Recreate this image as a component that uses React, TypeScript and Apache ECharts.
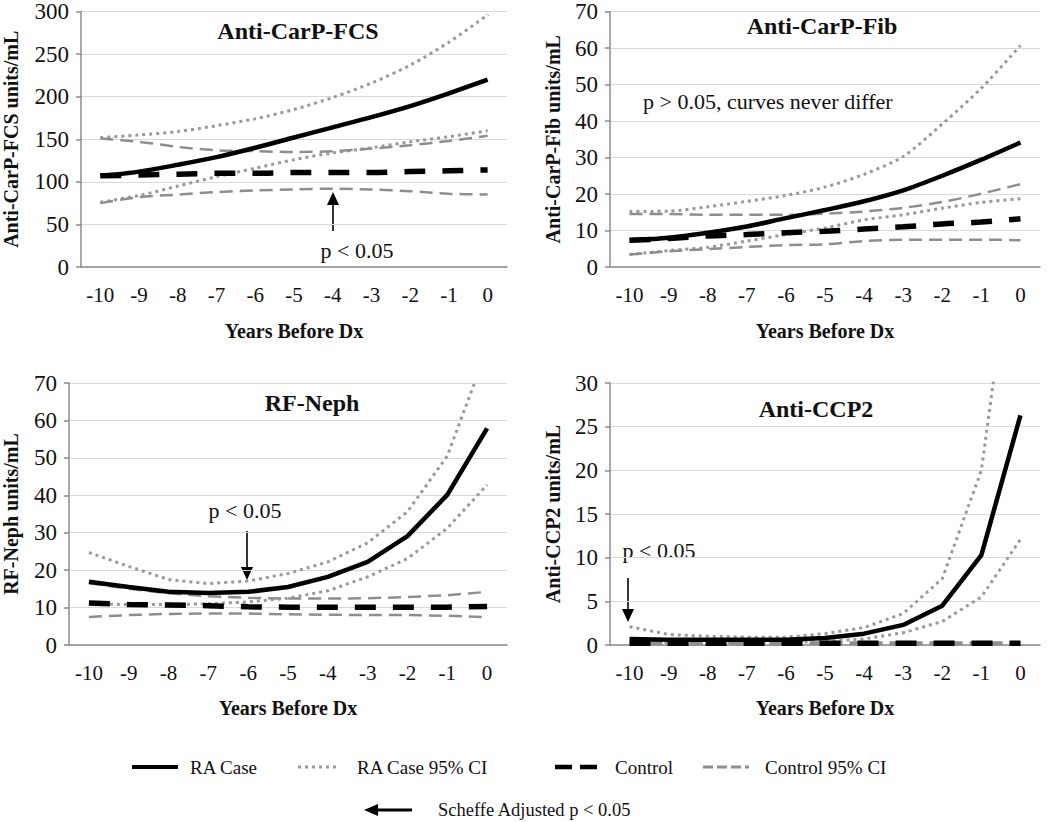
import React, { useEffect, useRef } from "react";
import * as echarts from "echarts";

const years = ["-10", "-9", "-8", "-7", "-6", "-5", "-4", "-3", "-2", "-1", "0"];

// Panel 1: Anti-CarP-FCS
const fcsRaCase = [107, 112, 120, 129, 140, 152, 164, 176, 189, 204, 220];
const fcsRaUpper = [152, 155, 159, 166, 174, 185, 199, 216, 237, 264, 296];
const fcsRaLower = [76, 84, 95, 106, 116, 126, 134, 140, 147, 153, 160];
const fcsCtrl = [107, 108, 109, 110, 110, 111, 111, 111, 112, 113, 114];
const fcsCtrlUpper = [151, 147, 141, 137, 136, 135, 136, 139, 143, 148, 154];
const fcsCtrlLower = [75, 82, 85, 88, 90, 91, 92, 91, 89, 86, 85];

// Panel 2: Anti-CarP-Fib
const fibRaCase = [7.3, 8.0, 9.4, 11.1, 13.4, 15.6, 18.0, 21.0, 25.0, 29.4, 34.1];
const fibRaUpper = [15.2, 15.3, 16.5, 18.0, 19.6, 21.9, 25.4, 30.3, 39.2, 49.0, 60.7];
const fibRaLower = [3.4, 4.5, 5.4, 7.1, 8.9, 10.7, 12.9, 14.3, 16.1, 17.7, 18.7];
const fibCtrl = [7.3, 7.8, 8.5, 8.9, 9.4, 9.8, 10.4, 11.0, 11.8, 12.3, 13.2];
const fibCtrlUpper = [14.5, 14.5, 14.3, 14.3, 14.3, 14.6, 15.2, 16.2, 17.8, 20.1, 22.7];
const fibCtrlLower = [3.4, 4.3, 4.9, 5.5, 6.0, 6.2, 7.1, 7.5, 7.5, 7.5, 7.3];

// Panel 3: RF-Neph
const nephRaCase = [16.9, 15.5, 14.2, 13.9, 14.2, 15.5, 18.2, 22.2, 29.1, 40.1, 57.9];
const nephRaUpper = [24.7, 21.0, 17.5, 16.4, 17.1, 19.1, 22.2, 27.3, 35.6, 50.5, 79];
const nephRaLower = [11.0, 10.8, 10.8, 11.0, 11.5, 12.5, 14.5, 18.2, 23.1, 31.2, 42.8];
const nephCtrl = [11.2, 10.8, 10.7, 10.5, 10.2, 10.1, 10.1, 10.1, 10.1, 10.1, 10.3];
const nephCtrlUpper = [16.5, 15.0, 13.8, 13.0, 12.6, 12.4, 12.4, 12.5, 12.8, 13.3, 14.2];
const nephCtrlLower = [7.5, 8.0, 8.3, 8.4, 8.4, 8.2, 8.1, 8.0, 8.0, 7.8, 7.4];

// Panel 4: Anti-CCP2
const ccpRaCase = [0.7, 0.6, 0.6, 0.6, 0.6, 0.8, 1.3, 2.3, 4.5, 10.3, 26.3];
const ccpRaUpper = [2.1, 1.2, 1.0, 0.9, 0.9, 1.3, 2.0, 3.6, 7.6, 20.0, 53];
const ccpRaLower = [0.2, 0.3, 0.3, 0.3, 0.3, 0.4, 0.7, 1.4, 2.7, 5.5, 12.1];
const ccpCtrl = [0.2, 0.2, 0.2, 0.2, 0.2, 0.2, 0.2, 0.2, 0.2, 0.2, 0.2];
const ccpCtrlUpper = [0.35, 0.3, 0.3, 0.3, 0.3, 0.3, 0.3, 0.3, 0.3, 0.3, 0.3];
const ccpCtrlLower = [0.1, 0.1, 0.1, 0.1, 0.1, 0.1, 0.1, 0.1, 0.1, 0.1, 0.1];

const panelTitles = ["Anti-CarP-FCS", "Anti-CarP-Fib", "RF-Neph", "Anti-CCP2"];
const yNames = ["Anti-CarP-FCS units/mL", "Anti-CarP-Fib units/mL", "RF-Neph units/mL", "Anti-CCP2 units/mL"];
const yMaxes = [300, 70, 70, 30];
const yIntervals = [50, 10, 10, 5];
const xName = "Years Before Dx";
const legendNames = ["RA Case", "RA Case 95% CI", "Control", "Control 95% CI"];

const FONT = "Liberation Serif";
const AXIS_GRAY = "#8c8c8c";
const CI_GRAY = "#999999";
const CTRL_GRAY = "#8e8e8e";

const grids = [
  { left: 81, top: 5, width: 426, height: 262 },
  { left: 610, top: 5, width: 430, height: 262 },
  { left: 68, top: 383, width: 439, height: 262 },
  { left: 610, top: 383, width: 430, height: 262 },
];
const yNameGaps = [60, 47, 48, 47];
const smoothVals = [0.3, 0.3, false, false];

const panelData = [
  [fcsRaUpper, fcsRaLower, fcsCtrlUpper, fcsCtrlLower, fcsCtrl, fcsRaCase],
  [fibRaUpper, fibRaLower, fibCtrlUpper, fibCtrlLower, fibCtrl, fibRaCase],
  [nephRaUpper, nephRaLower, nephCtrlUpper, nephCtrlLower, nephCtrl, nephRaCase],
  [ccpRaUpper, ccpRaLower, ccpCtrlUpper, ccpCtrlLower, ccpCtrl, ccpRaCase],
];

const styleRaCI = { color: CI_GRAY, width: 3, type: [3, 4] as any, cap: "butt" as const };
const styleCtrlCI = { color: CTRL_GRAY, width: 2.5, type: [13, 7] as any };
const styleCtrl = { color: "#000", width: 5.5, type: [21, 17] as any };
const styleRa = { color: "#000", width: 4.5 };

function buildOption() {
  const xAxis: any[] = [];
  const yAxis: any[] = [];
  const series: any[] = [];
  for (let i = 0; i < 4; i++) {
    xAxis.push({
      type: "category",
      gridIndex: i,
      data: years,
      boundaryGap: true,
      axisLine: { lineStyle: { color: AXIS_GRAY, width: 1.5 } },
      axisTick: { alignWithLabel: true, length: 5, lineStyle: { color: AXIS_GRAY, width: 1.5 } },
      axisLabel: { fontFamily: FONT, fontSize: 21, color: "#111", margin: 17 },
      name: xName,
      nameLocation: "middle",
      nameGap: i < 2 ? 54 : 53,
      nameTextStyle: { fontFamily: FONT, fontSize: 20, fontWeight: "bold", color: "#111" },
    });
    yAxis.push({
      type: "value",
      gridIndex: i,
      min: 0,
      max: yMaxes[i],
      interval: yIntervals[i],
      axisLine: { show: true, lineStyle: { color: AXIS_GRAY, width: 1.5 } },
      axisTick: { show: true, length: 5, lineStyle: { color: AXIS_GRAY, width: 1.5 } },
      splitLine: { lineStyle: { color: "#d9d9d9", width: 1 } },
      axisLabel: { fontFamily: FONT, fontSize: 23, color: "#111", margin: 12 },
      name: yNames[i],
      nameLocation: "middle",
      nameRotate: 90,
      nameGap: yNameGaps[i],
      nameTextStyle: { fontFamily: FONT, fontSize: 20, fontWeight: "bold", color: "#111" },
    });
    const d = panelData[i];
    const styles = [styleRaCI, styleRaCI, styleCtrlCI, styleCtrlCI, styleCtrl, styleRa];
    const names = [legendNames[1], legendNames[1], legendNames[3], legendNames[3], legendNames[2], legendNames[0]];
    for (let k = 0; k < 6; k++) {
      series.push({
        type: "line",
        name: names[k],
        xAxisIndex: i,
        yAxisIndex: i,
        data: d[k],
        symbol: "none",
        smooth: smoothVals[i],
        clip: true,
        lineStyle: styles[k],
        z: 2 + k,
      });
    }
  }

  const T = (text: string, x: number, y: number, size: number, bold = false, align = "center") => ({
    type: "text",
    x,
    y,
    style: {
      text,
      fontFamily: FONT,
      fontSize: size,
      fontWeight: bold ? "bold" : "normal",
      fill: "#111",
      textAlign: align,
      textVerticalAlign: "middle",
    },
  });
  const arrowDown = (x: number, y0: number, tip: number) => [
    { type: "line", shape: { x1: x, y1: y0, x2: x, y2: tip - 10 }, style: { stroke: "#000", lineWidth: 1.6 } },
    { type: "polygon", shape: { points: [[x - 6, tip - 13], [x + 6, tip - 13], [x, tip]] }, style: { fill: "#000" } },
  ];

  const graphic: any[] = [
    T(panelTitles[0], 298, 31, 24, true),
    T(panelTitles[1], 822, 26, 24, true),
    T(panelTitles[2], 312, 403, 24, true),
    T(panelTitles[3], 816, 409, 24, true),
    T("p < 0.05", 357, 250, 22),
    { type: "line", shape: { x1: 333, y1: 231, x2: 333, y2: 202 }, style: { stroke: "#000", lineWidth: 1.6 } },
    { type: "polygon", shape: { points: [[327, 205], [339, 205], [333, 192]] }, style: { fill: "#000" } },
    T("p > 0.05, curves never differ", 643, 101, 22, false, "left"),
    T("p < 0.05", 245, 510, 22),
    ...arrowDown(247, 531, 580),
    T("p < 0.05", 659, 550, 22),
    ...arrowDown(628, 578, 622),
    { type: "line", shape: { x1: 132, y1: 767, x2: 178, y2: 767 }, style: { stroke: "#000", lineWidth: 4 } },
    T(legendNames[0], 190, 767, 19, false, "left"),
    { type: "line", shape: { x1: 298, y1: 767, x2: 340, y2: 767 }, style: { stroke: CI_GRAY, lineWidth: 3, lineDash: [3, 4] } },
    T(legendNames[1], 357, 767, 19, false, "left"),
    { type: "line", shape: { x1: 555, y1: 767, x2: 597, y2: 767 }, style: { stroke: "#000", lineWidth: 4.5, lineDash: [17, 8] } },
    T(legendNames[2], 615, 767, 19, false, "left"),
    { type: "line", shape: { x1: 703, y1: 767, x2: 749, y2: 767 }, style: { stroke: CTRL_GRAY, lineWidth: 3, lineDash: [10, 4] } },
    T(legendNames[3], 765, 767, 19, false, "left"),
    { type: "line", shape: { x1: 374, y1: 810, x2: 412, y2: 810 }, style: { stroke: "#000", lineWidth: 3 } },
    { type: "polygon", shape: { points: [[364, 810], [378, 804], [378, 816]] }, style: { fill: "#000" } },
    T("Scheffe Adjusted p < 0.05", 438, 810, 18.5, false, "left"),
  ];

  return {
    animation: false,
    backgroundColor: "#fff",
    textStyle: { fontFamily: FONT },
    grid: grids,
    xAxis,
    yAxis,
    series,
    graphic,
  };
}

export default function App() {
  const ref = useRef<HTMLDivElement>(null);
  useEffect(() => {
    if (!ref.current) return;
    const chart = echarts.init(ref.current, undefined, { renderer: "svg" });
    chart.setOption(buildOption() as any);
    return () => chart.dispose();
  }, []);
  return (
    <div
      ref={ref}
      style={{ position: "absolute", left: 0, top: 0, width: 1050, height: 822, background: "#fff" }}
    />
  );
}
